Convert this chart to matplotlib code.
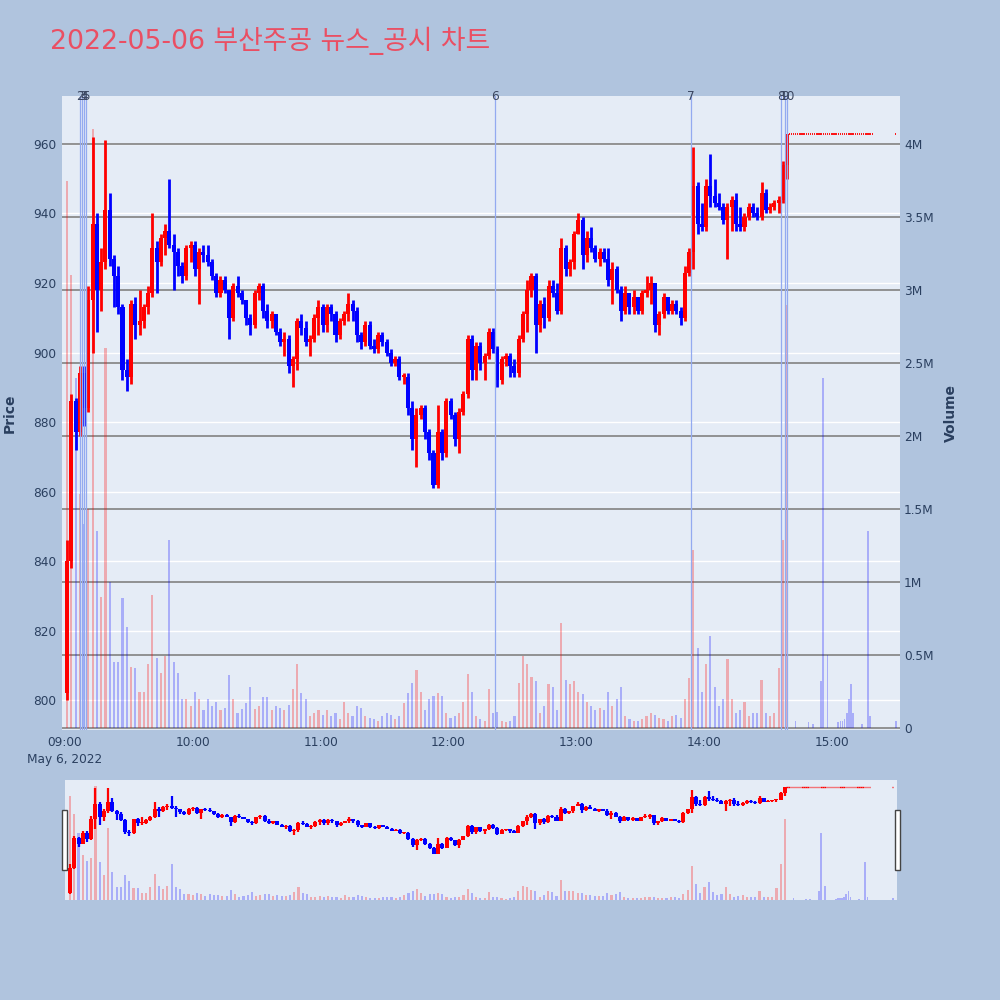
import numpy as np
import pandas as pd
import matplotlib
matplotlib.use('Agg')
import matplotlib.pyplot as plt
import matplotlib.transforms as mtransforms
from matplotlib.patches import Rectangle

plt.rcParams['font.family'] = ['DejaVu Sans', 'Noto Sans CJK KR']

TITLE = '2022-05-06 부산주공 뉴스_공시 차트'
DAY = '2022-05-06'

# ---- regular session, 2-minute candles ----
bar_times = pd.date_range(f'{DAY} 09:01', periods=170, freq='2min')
opens = [802, 840, 886, 877, 894, 884, 915, 937, 918, 926, 941, 927, 922, 913, 895, 893, 914, 908, 909, 913,
         917, 930, 926, 933, 935, 931, 929, 925, 922, 930, 931, 924, 929, 928, 926, 922, 917, 921, 918, 910,
         919, 917, 915, 910, 908, 917, 919, 912, 909, 911, 906, 903, 904, 896, 898, 909, 907, 903, 904, 910,
         913, 908, 913, 911, 905, 909, 911, 914, 912, 905, 903, 908, 902, 901, 905, 903, 900, 897, 898, 893,
         893, 884, 875, 882, 884, 877, 871, 862, 877, 871, 886, 882, 875, 883, 888, 904, 895, 902, 897, 899,
         906, 901, 892, 898, 899, 896, 894, 904, 911, 918, 922, 908, 914, 910, 919, 917, 912, 930, 924, 926,
         934, 938, 928, 933, 930, 927, 929, 927, 921, 924, 918, 912, 917, 913, 916, 912, 917, 918, 920, 908,
         911, 916, 912, 914, 912, 910, 923, 929, 948, 937, 936, 948, 945, 943, 942, 938, 942, 944, 937, 936,
         939, 942, 940, 939, 946, 941, 942, 943, 944, 954]
highs = [846, 888, 887, 896, 896, 919, 962, 940, 930, 961, 946, 928, 925, 914, 898, 915, 916, 918, 914, 919,
         940, 932, 934, 937, 950, 934, 930, 926, 931, 932, 932, 930, 931, 931, 927, 923, 922, 922, 918, 920,
         922, 918, 915, 911, 918, 920, 920, 914, 912, 911, 907, 906, 905, 899, 910, 911, 909, 905, 911, 915,
         914, 914, 914, 912, 910, 912, 917, 915, 913, 906, 909, 909, 904, 906, 906, 904, 901, 899, 899, 894,
         894, 886, 884, 885, 885, 878, 872, 885, 878, 887, 887, 883, 884, 889, 905, 905, 903, 903, 900, 907,
         907, 902, 899, 900, 900, 898, 905, 912, 921, 923, 923, 915, 916, 921, 921, 920, 933, 931, 927, 935,
         940, 939, 935, 936, 931, 930, 930, 930, 926, 925, 919, 919, 917, 918, 916, 918, 922, 922, 920, 912,
         917, 916, 915, 915, 913, 925, 930, 959, 949, 943, 950, 957, 950, 946, 943, 943, 945, 946, 942, 940,
         943, 943, 942, 949, 947, 943, 944, 945, 955, 963]
lows = [800, 838, 872, 876, 879, 883, 900, 906, 912, 924, 925, 913, 911, 892, 889, 891, 904, 905, 907, 911,
        916, 917, 925, 928, 930, 918, 922, 920, 921, 926, 922, 914, 926, 925, 921, 916, 916, 917, 904, 909,
        916, 914, 908, 905, 907, 915, 910, 907, 907, 905, 902, 899, 894, 890, 895, 905, 902, 899, 903, 905,
        906, 906, 909, 903, 904, 908, 909, 909, 903, 901, 902, 901, 900, 900, 902, 899, 896, 896, 892, 891,
        882, 872, 867, 881, 875, 869, 861, 861, 869, 870, 881, 873, 871, 882, 887, 892, 892, 895, 892, 898,
        900, 890, 891, 896, 893, 893, 893, 903, 906, 916, 900, 906, 907, 909, 916, 911, 911, 922, 922, 924,
        934, 924, 926, 929, 926, 925, 926, 919, 914, 917, 909, 911, 911, 911, 911, 911, 916, 914, 906, 905,
        910, 911, 911, 911, 908, 909, 922, 924, 934, 935, 935, 942, 942, 941, 937, 927, 935, 935, 935, 935,
        938, 939, 938, 938, 940, 940, 941, 940, 943, 950]
closes = [840, 886, 877, 894, 884, 915, 937, 918, 926, 941, 927, 922, 913, 895, 893, 914, 908, 909, 913, 917,
          930, 926, 933, 935, 931, 929, 925, 922, 930, 931, 924, 929, 928, 926, 922, 917, 921, 918, 910, 919,
          917, 915, 910, 908, 917, 919, 912, 909, 911, 906, 903, 904, 896, 898, 909, 907, 903, 904, 910, 913,
          908, 913, 911, 905, 909, 911, 914, 912, 905, 903, 908, 902, 901, 905, 903, 900, 897, 898, 893, 893,
          884, 875, 882, 884, 877, 871, 862, 877, 871, 886, 882, 875, 883, 888, 904, 895, 902, 897, 899, 906,
          901, 892, 898, 899, 896, 894, 904, 911, 918, 922, 908, 914, 910, 919, 917, 912, 930, 924, 926, 934,
          938, 928, 933, 930, 927, 929, 927, 921, 924, 918, 912, 917, 913, 916, 912, 917, 918, 920, 908, 911,
          916, 912, 914, 912, 910, 923, 929, 948, 937, 936, 948, 945, 943, 942, 938, 942, 944, 937, 936, 939,
          942, 940, 939, 946, 941, 942, 943, 944, 954, 963]
volumes_m = [3.75, 3.1, 2.4, 1.6, 1.4, 1.5, 4.1, 1.35, 0.9, 2.6, 1.0, 0.45, 0.45, 0.89, 0.69, 0.42, 0.41, 0.25, 0.25, 0.44,
             0.91, 0.48, 0.38, 0.49, 1.29, 0.45, 0.38, 0.2, 0.2, 0.15, 0.25, 0.2, 0.12, 0.2, 0.15, 0.18, 0.12, 0.14, 0.36, 0.2,
             0.1, 0.13, 0.17, 0.28, 0.13, 0.15, 0.21, 0.21, 0.12, 0.15, 0.14, 0.12, 0.16, 0.27, 0.44, 0.24, 0.2, 0.08, 0.1, 0.12,
             0.09, 0.12, 0.08, 0.1, 0.06, 0.18, 0.1, 0.08, 0.15, 0.14, 0.08, 0.07, 0.06, 0.05, 0.08, 0.1, 0.09, 0.06, 0.08, 0.17,
             0.24, 0.31, 0.4, 0.25, 0.12, 0.2, 0.22, 0.24, 0.22, 0.1, 0.07, 0.08, 0.1, 0.18, 0.37, 0.25, 0.08, 0.06, 0.05, 0.27,
             0.1, 0.11, 0.05, 0.04, 0.05, 0.08, 0.31, 0.49, 0.44, 0.35, 0.32, 0.1, 0.15, 0.3, 0.28, 0.12, 0.72, 0.33, 0.3, 0.32,
             0.25, 0.23, 0.18, 0.15, 0.12, 0.14, 0.12, 0.25, 0.15, 0.2, 0.28, 0.08, 0.06, 0.05, 0.05, 0.06, 0.08, 0.1, 0.09, 0.07,
             0.06, 0.05, 0.08, 0.09, 0.07, 0.2, 0.34, 1.22, 0.55, 0.25, 0.44, 0.63, 0.28, 0.15, 0.2, 0.47, 0.2, 0.1, 0.12, 0.18,
             0.08, 0.1, 0.1, 0.33, 0.1, 0.08, 0.1, 0.41, 1.29, 2.9]

# ---- after-hours single-price trades (1-minute) ----
after_times = list(pd.date_range(f'{DAY} 14:40', f'{DAY} 15:19', freq='1min')) + [pd.Timestamp(f'{DAY} 15:30')]
after_price = 963
after_volumes_m = [0, 0, 0, 0.05, 0, 0, 0, 0, 0, 0.04,
                   0, 0.03, 0, 0, 0, 0.32, 2.4, 0, 0.5, 0,
                   0, 0, 0, 0.04, 0.05, 0.05, 0.06, 0.1, 0.2, 0.3,
                   0.1, 0, 0, 0, 0.03, 0, 0, 1.35, 0.08, 0,
                   0.05]

# ---- news / disclosure markers ----
news_times = ['09:07', '09:08', '09:09', '09:10', '12:22', '13:54', '14:36', '14:38', '14:39']
news_labels = ['2', '3', '4', '5', '6', '7', '8', '9', '10']

price_ticks = [800, 820, 840, 860, 880, 900, 920, 940, 960]
volume_ticks = [0, 0.5, 1, 1.5, 2, 2.5, 3, 3.5, 4]
volume_tick_labels = ['0', '0.5M', '1M', '1.5M', '2M', '2.5M', '3M', '3.5M', '4M']
hour_ticks = ['09:00', '10:00', '11:00', '12:00', '13:00', '14:00', '15:00']
date_label = 'May 6, 2022'

# ------------------------------------------------------------------
t0 = pd.Timestamp(f'{DAY} 09:00')
def mins(t):
    return (pd.Timestamp(t) - t0).total_seconds() / 60.0

bx = np.array([mins(t) for t in bar_times])
ax_times = np.array([mins(t) for t in after_times])
o = np.array(opens, float); h = np.array(highs, float)
l = np.array(lows, float); c = np.array(closes, float)
up = c >= o

RED = '#FF0000'
BLUE = '#0000FF'
BG = '#B0C4DE'
PLOT_BG = '#E5ECF6'
TXT = '#2a3f5f'
XLIM = (-1.4, 392.0)
PLIM = (791.4, 973.8)
VLIM = (-0.0137, 4.329)

fig = plt.figure(figsize=(10, 10), dpi=100, facecolor=BG)


def draw_candles(ax, wick_lw, body_w, min_h, dash_lw):
    cols = np.where(up, RED, BLUE)
    ax.vlines(bx, l, h, colors=cols, lw=wick_lw, zorder=3)
    bottoms = np.minimum(o, c)
    heights = np.maximum(np.abs(c - o), min_h)
    ax.bar(bx, heights, bottom=bottoms, width=body_w, color=cols, linewidth=0, zorder=3)
    for t in ax_times:
        ax.hlines(after_price, t - 0.33, t + 0.33, colors=RED, lw=dash_lw, zorder=3)


def draw_volume(ax, width):
    vcols = [(1, 0, 0, 0.28) if u else (0, 0, 1, 0.26) for u in up]
    ax.bar(bx, volumes_m, width=width, color=vcols, linewidth=0, zorder=2)
    ax.bar(ax_times, after_volumes_m, width=width * 0.8, color=(0, 0, 1, 0.26), linewidth=0, zorder=2)


# ---------------- main chart ----------------
L, R = 0.062, 0.900
axp = fig.add_axes([L, 0.270, R - L, 0.634])
axp.set_facecolor(PLOT_BG)
axp.set_xlim(*XLIM)
axp.set_ylim(*PLIM)
axp.set_yticks(price_ticks)
axp.set_yticklabels([str(v) for v in price_ticks])
axp.grid(axis='y', color='white', lw=1.0)
axp.set_axisbelow(True)
axp.tick_params(axis='y', length=0, pad=4, labelsize=8.7, labelcolor=TXT)
xt = [mins(f'{DAY} {s}') for s in hour_ticks]
axp.set_xticks(xt)
axp.set_xticklabels([hour_ticks[0] + '\n' + date_label] + hour_ticks[1:], linespacing=1.45)
axp.tick_params(axis='x', length=0, pad=4, labelsize=8.7, labelcolor=TXT)
for s in axp.spines.values():
    s.set_visible(False)

axv = axp.twinx()
axv.set_ylim(*VLIM)
axv.set_yticks(volume_ticks)
axv.set_yticklabels(volume_tick_labels)
axv.grid(axis='y', color='#8a8a8a', lw=1.3)
axv.set_axisbelow(True)
axv.tick_params(axis='y', length=0, pad=3, labelsize=8.7, labelcolor=TXT)
for s in axv.spines.values():
    s.set_visible(False)
draw_volume(axv, 1.0)

axc = axp.twinx()
axc.set_ylim(*PLIM)
axc.set_yticks([])
for s in axc.spines.values():
    s.set_visible(False)
draw_candles(axc, 2.0, 1.9, 0.6, 1.3)
trans = mtransforms.blended_transform_factory(axc.transData, axc.transAxes)
for t, lab in zip(news_times, news_labels):
    xm = mins(f'{DAY} {t}')
    axc.axvline(xm, color='#93aaf0', lw=0.9, zorder=4)
    axc.text(xm, 0.9985, lab, transform=trans, ha='center', va='center',
             fontsize=8.7, color='#3a4660', clip_on=False, zorder=5)
axc.set_xlim(*XLIM)

fig.text(0.010, 0.587, 'Price', rotation=90, ha='center', va='center',
         fontsize=10, fontweight='bold', color=TXT)
fig.text(0.951, 0.587, 'Volume', rotation=90, ha='center', va='center',
         fontsize=10, fontweight='bold', color=TXT)
fig.text(0.050, 0.9595, TITLE, ha='left', va='center', fontsize=19.3, color='#EA4F63')

# ---------------- range slider ----------------
SL, SR = 0.065, 0.897
axs = fig.add_axes([SL, 0.100, SR - SL, 0.120])
axs.set_facecolor(PLOT_BG)
axs.set_xlim(*XLIM)
axs.set_ylim(*VLIM)
axs.set_xticks([]); axs.set_yticks([])
for s in axs.spines.values():
    s.set_visible(False)
draw_volume(axs, 1.0)
axsc = axs.twinx()
axsc.set_ylim(*PLIM)
axsc.set_yticks([])
for s in axsc.spines.values():
    s.set_visible(False)
draw_candles(axsc, 1.6, 1.9, 1.5, 1.0)
axsc.set_xlim(*XLIM)

for x0 in (0.0620, 0.8950):
    fig.patches.append(Rectangle((x0, 0.130), 0.0045, 0.060, transform=fig.transFigure,
                                 facecolor='white', edgecolor='#444444', lw=1.0, zorder=10))

fig.savefig('out.png', dpi=100, facecolor=BG)
